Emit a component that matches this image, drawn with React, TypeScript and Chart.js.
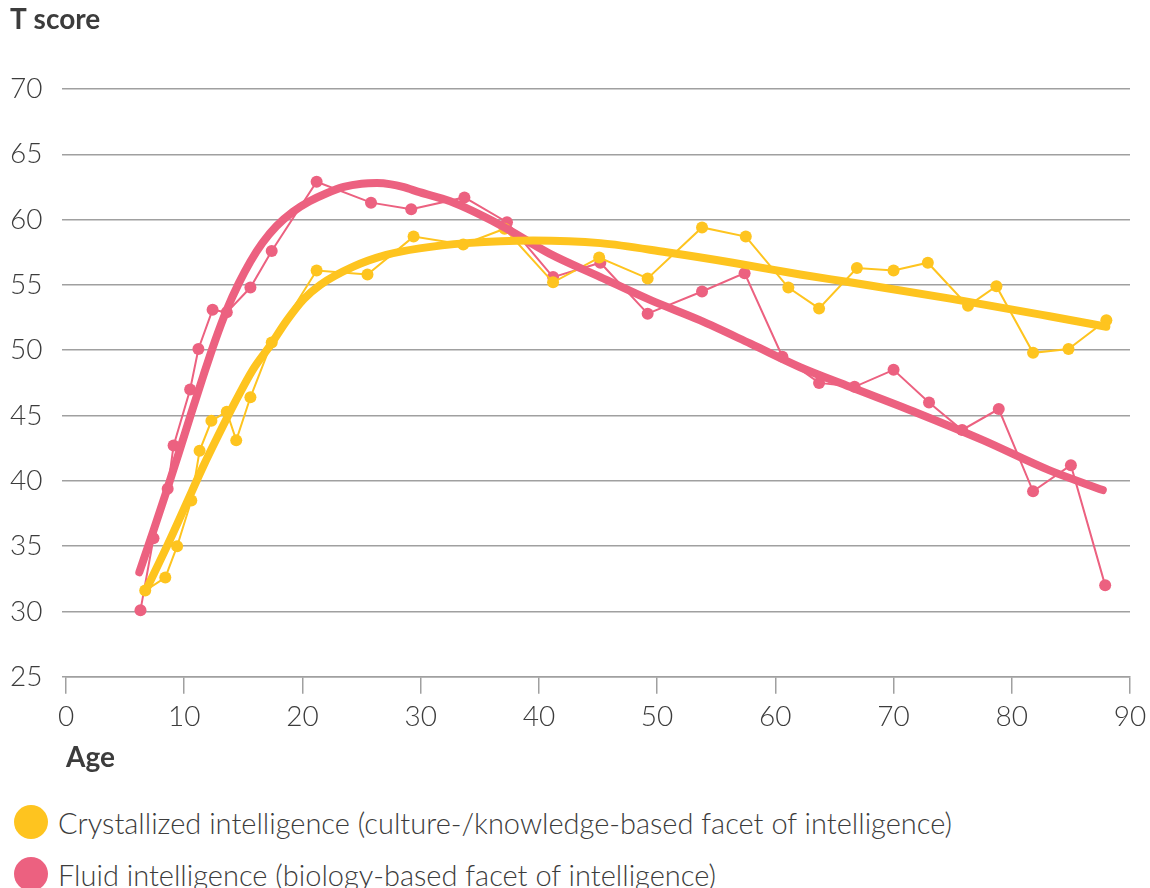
import React, { useEffect, useRef } from "react";
import { Chart, registerables } from "chart.js";

Chart.register(...registerables);

const YELLOW = "#FEC41F";
const PINK = "#EC6180";
const TEXT = "#3c3c3c";
const FONT = "Lato, 'Open Sans', sans-serif";

// Observed data points
const fluidAges = [6.3, 7.4, 8.6, 9.1, 10.5, 11.2, 12.4, 13.6, 15.6, 17.4, 21.2, 25.8, 29.2, 33.7, 37.3, 41.2, 45.2, 49.2, 53.8, 57.4, 60.6, 63.7, 66.7, 70.0, 73.0, 75.8, 78.9, 81.8, 85.0, 87.9];
const fluidValues = [30.1, 35.6, 39.4, 42.7, 47.0, 50.1, 53.1, 52.9, 54.8, 57.6, 62.9, 61.3, 60.8, 61.7, 59.8, 55.6, 56.7, 52.8, 54.5, 55.9, 49.5, 47.5, 47.2, 48.5, 46.0, 43.9, 45.5, 39.2, 41.2, 32.0];

const crystAges = [6.7, 8.4, 9.4, 10.6, 11.3, 12.3, 13.6, 14.4, 15.6, 17.4, 21.2, 25.5, 29.4, 33.6, 37.1, 41.2, 45.1, 49.2, 53.8, 57.5, 61.1, 63.7, 66.9, 70.0, 72.9, 76.3, 78.7, 81.8, 84.8, 88.0];
const crystValues = [31.6, 32.6, 35.0, 38.5, 42.3, 44.6, 45.3, 43.1, 46.4, 50.6, 56.1, 55.8, 58.7, 58.1, 59.3, 55.2, 57.1, 55.5, 59.4, 58.7, 54.8, 53.2, 56.3, 56.1, 56.7, 53.4, 54.9, 49.8, 50.1, 52.3];

// Fitted trend curves
const fluidTrendAges = [6.2, 7.4, 8.5, 9.6, 10.6, 11.6, 12.6, 13.6, 14.6, 15.6, 16.6, 17.8, 19.2, 20.6, 22.0, 23.5, 25.0, 26.3, 27.5, 28.5, 29.9, 32.5, 36.7, 40.9, 45.2, 49.4, 53.6, 57.9, 62.1, 66.3, 72.0, 77.6, 83.2, 87.7];
const fluidTrendValues = [33.0, 36.2, 39.2, 42.3, 45.2, 48.0, 50.7, 53.1, 55.1, 56.8, 58.2, 59.5, 60.6, 61.4, 62.0, 62.5, 62.75, 62.8, 62.7, 62.5, 62.1, 61.4, 59.6, 57.4, 55.6, 53.85, 52.3, 50.5, 48.7, 47.2, 45.2, 43.1, 40.8, 39.3];

const crystTrendAges = [6.7, 8.8, 10.2, 11.6, 13.0, 14.4, 15.8, 17.3, 18.7, 20.1, 21.5, 24.3, 27.1, 29.9, 33.9, 39.5, 45.2, 50.8, 56.4, 62.1, 66.3, 74.8, 83.2, 88.0];
const crystTrendValues = [31.5, 35.5, 38.3, 41.1, 43.7, 46.2, 48.5, 50.4, 52.3, 53.9, 55.0, 56.4, 57.3, 57.8, 58.2, 58.4, 58.2, 57.5, 56.7, 55.8, 55.2, 53.95, 52.6, 51.8];

const legendLabels = [
  "Crystallized intelligence (culture-/knowledge-based facet of intelligence)",
  "Fluid intelligence (biology-based facet of intelligence)",
];
const legendColors = [YELLOW, PINK];

const yTitle = "T score";
const xTitle = "Age";

const zip = (xs: number[], ys: number[]) => xs.map((x, i) => ({ x, y: ys[i] }));

export default function App() {
  const ref = useRef<HTMLCanvasElement | null>(null);

  useEffect(() => {
    if (!ref.current) return;
    const chart = new Chart(ref.current, {
      type: "line",
      data: {
        datasets: [
          {
            label: "Crystallized trend",
            data: zip(crystTrendAges, crystTrendValues),
            borderColor: YELLOW,
            borderWidth: 8,
            pointRadius: 0,
            cubicInterpolationMode: "monotone",
            borderCapStyle: "round",
            fill: false,
          },
          {
            label: "Fluid trend",
            data: zip(fluidTrendAges, fluidTrendValues),
            borderColor: PINK,
            borderWidth: 8,
            pointRadius: 0,
            cubicInterpolationMode: "monotone",
            borderCapStyle: "round",
            fill: false,
          },
          {
            label: legendLabels[0],
            data: zip(crystAges, crystValues),
            borderColor: YELLOW,
            backgroundColor: YELLOW,
            borderWidth: 2,
            pointRadius: 6,
            pointBorderWidth: 0,
            tension: 0,
            fill: false,
          },
          {
            label: legendLabels[1],
            data: zip(fluidAges, fluidValues),
            borderColor: PINK,
            backgroundColor: PINK,
            borderWidth: 2,
            pointRadius: 6,
            pointBorderWidth: 0,
            tension: 0,
            fill: false,
          },
        ],
      },
      options: {
        animation: false,
        responsive: false,
        maintainAspectRatio: false,
        layout: { padding: { left: 10, right: 20, top: 0, bottom: 0 } },
        plugins: {
          legend: { display: false },
          tooltip: { enabled: false },
          title: {
            display: true,
            text: yTitle,
            align: "start",
            color: TEXT,
            font: { family: FONT, size: 28, weight: "bold" },
            padding: { top: 3, bottom: 52.4 },
          },
        },
        scales: {
          x: {
            type: "linear",
            min: 0,
            max: 90,
            afterFit: (scale: any) => {
              scale.paddingRight = 0;
              scale.paddingLeft = 0;
            },
            ticks: {
              stepSize: 10,
              color: TEXT,
              font: { family: FONT, size: 28, weight: 300 },
              padding: 6,
            },
            grid: {
              drawOnChartArea: false,
              drawTicks: true,
              tickLength: 17,
              color: "#a0a0a0",
              lineWidth: 1.5,
            },
            border: { display: true, color: "#a0a0a0", width: 1.5 },
            title: {
              display: true,
              text: xTitle,
              align: "start",
              color: TEXT,
              font: { family: FONT, size: 28, weight: "bold" },
              padding: { top: 2, bottom: 6 },
            },
          },
          y: {
            type: "linear",
            min: 25,
            max: 70,
            afterFit: (scale: any) => {
              scale.width = 56;
            },
            ticks: {
              stepSize: 5,
              color: TEXT,
              font: { family: FONT, size: 28, weight: 300 },
              padding: 18,
              crossAlign: "far",
            },
            grid: {
              color: "#a0a0a0",
              lineWidth: 1.5,
              tickLength: 4,
            },
            border: { display: false },
          },
        },
      },
    });
    return () => chart.destroy();
  }, []);

  return (
    <div style={{ position: "absolute", left: 0, top: 0, width: 1150, height: 888, background: "#fff", fontFamily: FONT }}>
      <canvas ref={ref} width={1150} height={781} style={{ display: "block", width: 1150, height: 781 }} />
      {legendLabels.map((label, i) => (
        <div
          key={label}
          style={{
            position: "absolute",
            left: 14,
            top: 805 + i * 52,
            height: 34,
            display: "flex",
            alignItems: "center",
            whiteSpace: "nowrap",
          }}
        >
          <span
            style={{
              display: "inline-block",
              width: 34,
              height: 34,
              borderRadius: "50%",
              background: legendColors[i],
              marginRight: 10,
            }}
          />
          <span style={{ fontSize: 29, fontWeight: 300, color: TEXT }}>{label}</span>
        </div>
      ))}
    </div>
  );
}
